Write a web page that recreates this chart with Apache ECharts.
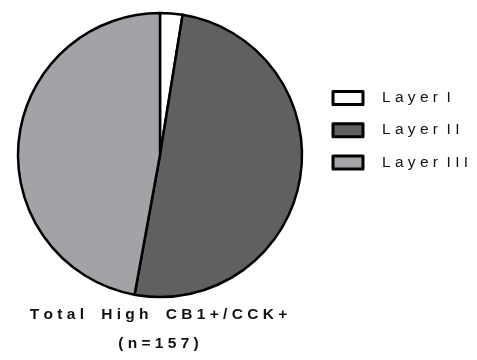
<!DOCTYPE html>
<html>
<head>
  <meta charset="utf-8">
</head>
<body style="margin: 0">
  <div id="container" style="width: 477px; height: 360px"></div>

  <script type="text/javascript" src="https://cdn.jsdelivr.net/npm/echarts@6/dist/echarts.min.js"></script>
  <script type="text/javascript">
    // data (n = 157)
    var layers = ['Layer I', 'Layer II', 'Layer III'];
    var counts = [4, 79, 74];
    var colors = ['#ffffff', '#606060', '#a2a2a7'];

    // the original uses very wide letter spacing
    function spaced(s, wordGap) {
      return s.split(' ').map(function (w) { return w.split('').join(' '); }).join(wordGap);
    }

    var myChart = echarts.init(document.getElementById('container'));

    var option = {
      animation: false,
      title: {
        text: spaced('Total High CB1+/CCK+', '    ') + '\n' + spaced('(n=157)', ' '),
        left: 158.5,
        top: 300,
        padding: 0,
        textAlign: 'center',
        textStyle: {
          fontFamily: 'Liberation Sans',
          fontSize: 15.5,
          fontWeight: 'bold',
          color: '#111',
          lineHeight: 29
        }
      },
      legend: {
        orient: 'vertical',
        left: 331.5,
        top: 90,
        padding: 0,
        icon: 'rect',
        itemWidth: 30,
        itemHeight: 13,
        itemGap: 16.2,
        itemStyle: { borderColor: '#000', borderWidth: 3 },
        formatter: function (name) { return spaced(name, '  '); },
        textStyle: {
          fontFamily: 'Liberation Sans',
          fontSize: 15.5,
          lineHeight: 16,
          color: '#111',
          padding: [0, 0, 0, 14]
        },
        data: layers
      },
      series: [
        {
          type: 'pie',
          center: [160, 155],
          radius: [0, 142],
          startAngle: 90,
          clockwise: true,
          label: { show: false },
          labelLine: { show: false },
          emphasis: { disabled: true },
          itemStyle: { borderColor: '#000', borderWidth: 2.5 },
          data: layers.map(function (name, i) {
            return { name: name, value: counts[i], itemStyle: { color: colors[i] } };
          })
        }
      ]
    };

    myChart.setOption(option);
    window.addEventListener('resize', myChart.resize);
  </script>
</body>
</html>
